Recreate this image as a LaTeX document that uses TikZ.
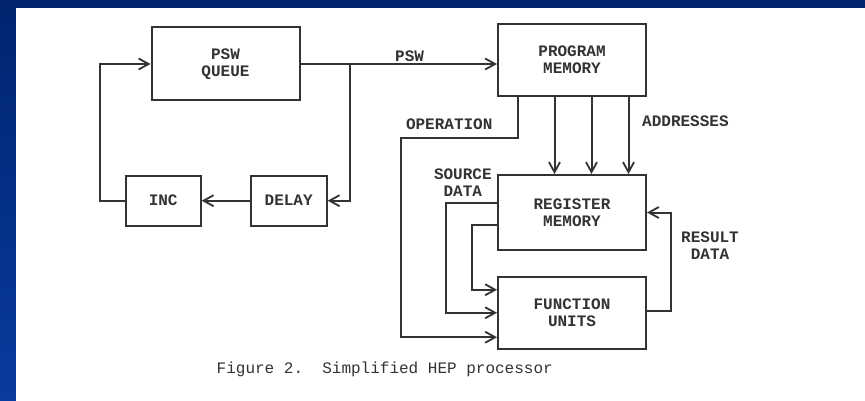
\documentclass[tikz,border=0pt]{standalone}
\usepackage{fontspec}
\newfontfamily\hepfont{Liberation Mono}
\usepackage{tikz}
\usetikzlibrary{arrows.meta,positioning,calc}

\definecolor{slidetop}{HTML}{00246E}
\definecolor{slidebot}{HTML}{0A3BA0}
\definecolor{ink}{HTML}{333333}

\begin{document}
\begin{tikzpicture}[
  x=1pt, y=-1pt,
  hbox/.style={draw=ink,line width=2pt,align=center,text=ink,inner sep=0pt,
               font=\hepfont\bfseries\fontsize{16}{17}\selectfont,minimum width=148pt,minimum height=73pt},
  sbox/.style={hbox,minimum width=76pt,minimum height=50pt},
  lbl/.style={text=ink,inner sep=1.5pt,align=center,font=\hepfont\bfseries\fontsize{16}{17}\selectfont},
  flow/.style={-{Straight Barb[length=10pt,width=11pt,line width=1.8pt]},draw=ink,line width=2pt}]

% slide frame
\useasboundingbox (0,0) rectangle (865,401);
\fill[top color=slidetop,bottom color=slidebot] (0,0) rectangle (865,401);
\fill[white] (16,8) rectangle (865,401);

% boxes
\node[hbox] (queue) at (225.5,64) {PSW\\QUEUE};
\node[hbox,right=196.5pt of queue,yshift=4pt,minimum height=72pt] (prog) {PROGRAM\\MEMORY};
\node[hbox,below=77pt of prog,minimum height=75pt] (reg) {REGISTER\\MEMORY};
\node[hbox,below=24.5pt of reg,minimum height=72.5pt] (func) {FUNCTION\\UNITS};
\node[sbox] (delay) at (288.7,200.7) {DELAY};
\node[sbox,left=48pt of delay,minimum width=75pt] (inc) {INC};

% PSW loop
\coordinate (split) at ([xshift=49.4pt]queue.east);
\draw[flow] (queue.east) -- node[lbl,above,pos=0.555] (psw) {PSW} (queue.east -| prog.west);
\draw[flow] (split) |- (delay.east);
\draw[flow] (delay) -- (inc);
\draw[flow] (inc.west) -- ++(-25pt,0) |- (queue.west);

% addresses
\foreach \dx in {-17.5,19.5,56.5}
  \draw[flow] ([xshift=\dx pt]prog.south) -- ([xshift=\dx pt]prog.south |- reg.north);
\node[lbl,anchor=west] (addr) at ([xshift=-6.5pt,yshift=-24pt]prog.south east) {ADDRESSES};

% operation
\draw[flow] ([xshift=-54pt]prog.south) -- ++(0,40.7)
  -- node[lbl,above=6pt,pos=0.586] (oper) {OPERATION} ++(-117.4,0)
  |- ([yshift=-24.5pt]func.west);

% source data
\draw[flow] ([yshift=9.8pt]reg.west) -- node[lbl,above=4pt,pos=0.67] (src) {SOURCE\\DATA} ++(-51pt,0) |- (func.west);
\draw[flow] ([yshift=-12.8pt]reg.west) -- ++(-25pt,0) |- ([yshift=23pt]func.west);

% result data
\draw[flow] ([yshift=2pt]func.east) -- ++(24pt,0) |- (reg.east);
\node[lbl] (res) at ([xshift=63pt,yshift=5pt]reg.south east) {RESULT\\DATA};

% caption
\node[lbl,font=\hepfont\fontsize{16}{17}\selectfont,anchor=west] (cap) at (215,369) {Figure 2.\ \ Simplified HEP processor};

\end{tikzpicture}
\end{document}
